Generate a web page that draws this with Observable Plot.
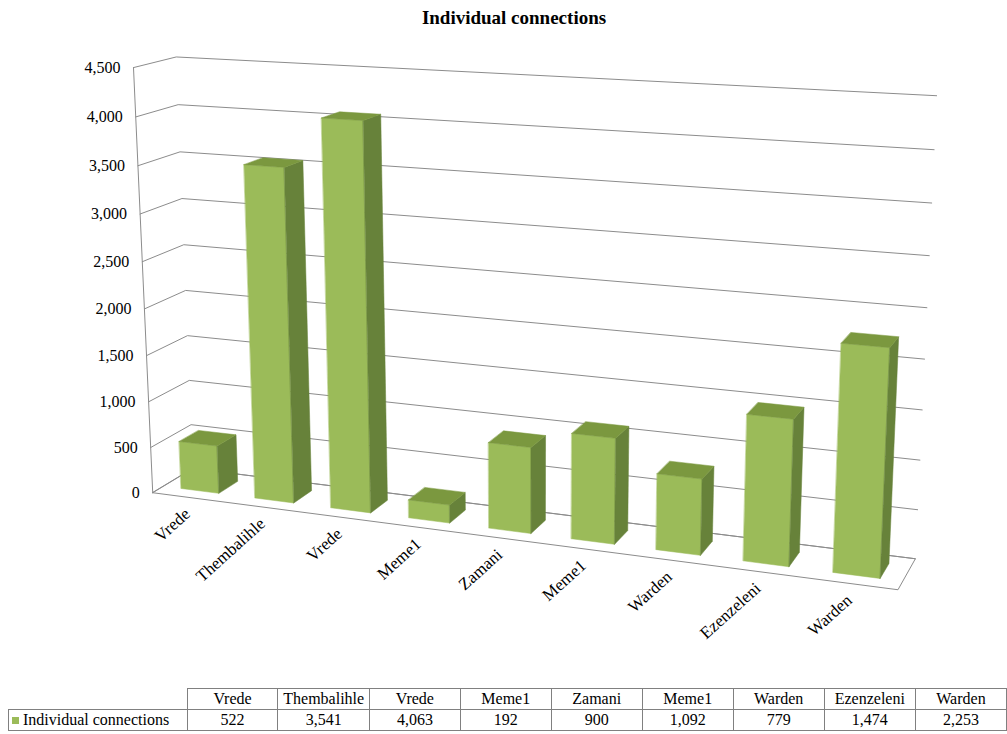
<!DOCTYPE html>
<html><head><meta charset="utf-8">
<script src="https://cdn.jsdelivr.net/npm/d3@7"></script>
<script src="https://cdn.jsdelivr.net/npm/@observablehq/plot@0.6"></script>
<style>
body{margin:0;background:#fff;font-family:"Liberation Serif",serif;overflow:hidden;width:1007px;height:734px;position:relative;}
#title{height:36px;line-height:36px;text-align:center;padding-left:21px;font-weight:bold;font-size:19px;color:#000;font-family:"Liberation Serif",serif;}
#chart{position:absolute;left:0;top:36px;}
#tbl{position:absolute;left:8px;top:688px;border-collapse:collapse;table-layout:fixed;font-size:16px;font-family:"Liberation Serif",serif;}
#tbl td{border:1px solid #808080;text-align:center;padding:0;height:20px;white-space:nowrap;overflow:hidden;font-family:"Liberation Serif",serif;}
#tbl td.blank{border:none;border-right:1px solid #808080;border-bottom:1px solid #808080;}
#tbl td.name{text-align:left;padding-left:3px;}
.key{display:inline-block;width:7px;height:7px;background:#9bbb59;margin-right:4px;vertical-align:1px;}
</style></head><body>
<div id="title">Individual connections</div>
<div id="chart"></div>
<table id="tbl"></table>
<script>
// ---- data ----
const categories = ["Vrede","Thembalihle","Vrede","Meme1","Zamani","Meme1","Warden","Ezenzeleni","Warden"];
const values = [522,3541,4063,192,900,1092,779,1474,2253];
const seriesName = "Individual connections";
const yTicks = [0,500,1000,1500,2000,2500,3000,3500,4000,4500];
const yMax = 4500;

// ---- 3D camera (layout): wall height, depth, yaw, pitch, distance, focal, centre x/y, bar width, bar depth range, roll ----
const camera = [5.12806, 0.98350, -0.36276, 0.24672, 24.29378, 2164.11145, 516.26997, 307.85265, 0.51438, 0.26245, 0.74845, -0.00190];
const N = categories.length;
function makeProj(p){
  const [Hw,D,th,ph,dist,f,cx,cy,,,,rl]=p;
  const c=Math.cos(th), s=Math.sin(th), cp=Math.cos(ph), sp=Math.sin(ph), cr=Math.cos(rl), sr=Math.sin(rl);
  return (X,v,Z)=>{
    const x=X-N/2, y=v/yMax*Hw-Hw/2, z=Z-D/2;
    const x1=x*c-z*s, z1=x*s+z*c;
    const y2=y*cp+z1*sp, z2=-y*sp+z1*cp+dist;
    const u=f*x1/z2, q=-f*y2/z2;
    return [cx+u*cr-q*sr, cy+u*sr+q*cr];
  };
}
const [Hw,D,,,,,,,barW,z0f,z1f] = camera;
const proj = makeProj(camera);
const TOP = 36;
const pt = (X,v,Z) => { const r = proj(X,v,Z); return {x:r[0], y:r[1]-TOP}; };

const grid = yTicks.flatMap(t => [pt(0,t,0), pt(0,t,D), pt(N,t,D)].map(p => ({...p, t})));
const axisLine = [pt(0,0,0), pt(0,yMax,0)];
const floor = [pt(0,0,0), pt(N,0,0), pt(N,0,D), pt(0,0,D)];
const FRONT="#9bbb59", SIDE="#67823a", TOPC="#7b983f";
const faces = [];
values.forEach((v,i)=>{
  const xl=i+0.5-barW/2, xr=i+0.5+barW/2, za=z0f*D, zb=z1f*D;
  const add=(id,col,pts)=>pts.forEach(p=>faces.push({...pt(...p), id:i+"-"+id, color:col}));
  add("f",FRONT,[[xl,0,za],[xr,0,za],[xr,v,za],[xl,v,za]]);
  add("s",SIDE,[[xr,0,za],[xr,0,zb],[xr,v,zb],[xr,v,za]]);
  add("t",TOPC,[[xl,v,za],[xr,v,za],[xr,v,zb],[xl,v,zb]]);
});
const tickLabels = yTicks.map(t => ({...pt(0,t,0), label: d3.format(",")(t)}));
const catLabels = categories.map((c,i) => ({...pt(i+0.5,0,0), label:c}));
const FF = "Liberation Serif";
const chart = Plot.plot({
  width:1007, height:648, margin:0,
  x:{type:"identity", axis:null}, y:{type:"identity", axis:null},
  color:{type:"identity"},
  style:{fontFamily:FF, background:"#fff"},
  marks:[
    Plot.line(floor,{x:"x",y:"y",curve:"linear-closed",stroke:"#8c8c8c",strokeWidth:1,fill:"#fff"}),
    Plot.line(grid,{x:"x",y:"y",z:"t",stroke:"#8c8c8c",strokeWidth:1}),
    Plot.line(axisLine,{x:"x",y:"y",stroke:"#8c8c8c",strokeWidth:1}),
    Plot.line(faces,{x:"x",y:"y",z:"id",fill:"color",stroke:"color",strokeWidth:0.5,curve:"linear-closed"}),
    Plot.text(tickLabels,{x:"x",y:"y",text:"label",textAnchor:"end",dx:-13,fontSize:16,fontFamily:FF,fill:"#000"}),
    Plot.text(catLabels,{x:"x",y:"y",text:"label",textAnchor:"end",rotate:-42,dx:-2,dy:14,fontSize:17,fontFamily:FF,fill:"#000"})
  ]
});
document.getElementById("chart").appendChild(chart);

// ---- data table ----
const tbl = d3.select("#tbl");
tbl.append("colgroup").selectAll("col").data([179,...categories.map(()=>91.7)]).join("col").style("width",d=>d+"px");
const hr = tbl.append("tr");
hr.append("td").attr("class","blank");
hr.selectAll("td.c").data(categories).join("td").attr("class","c").text(d=>d);
const dr = tbl.append("tr");
const nc = dr.append("td").attr("class","name");
nc.append("span").attr("class","key"); nc.append("span").text(seriesName);
dr.selectAll("td.v").data(values).join("td").attr("class","v").text(d=>d3.format(",")(d));
</script>
</body></html>
